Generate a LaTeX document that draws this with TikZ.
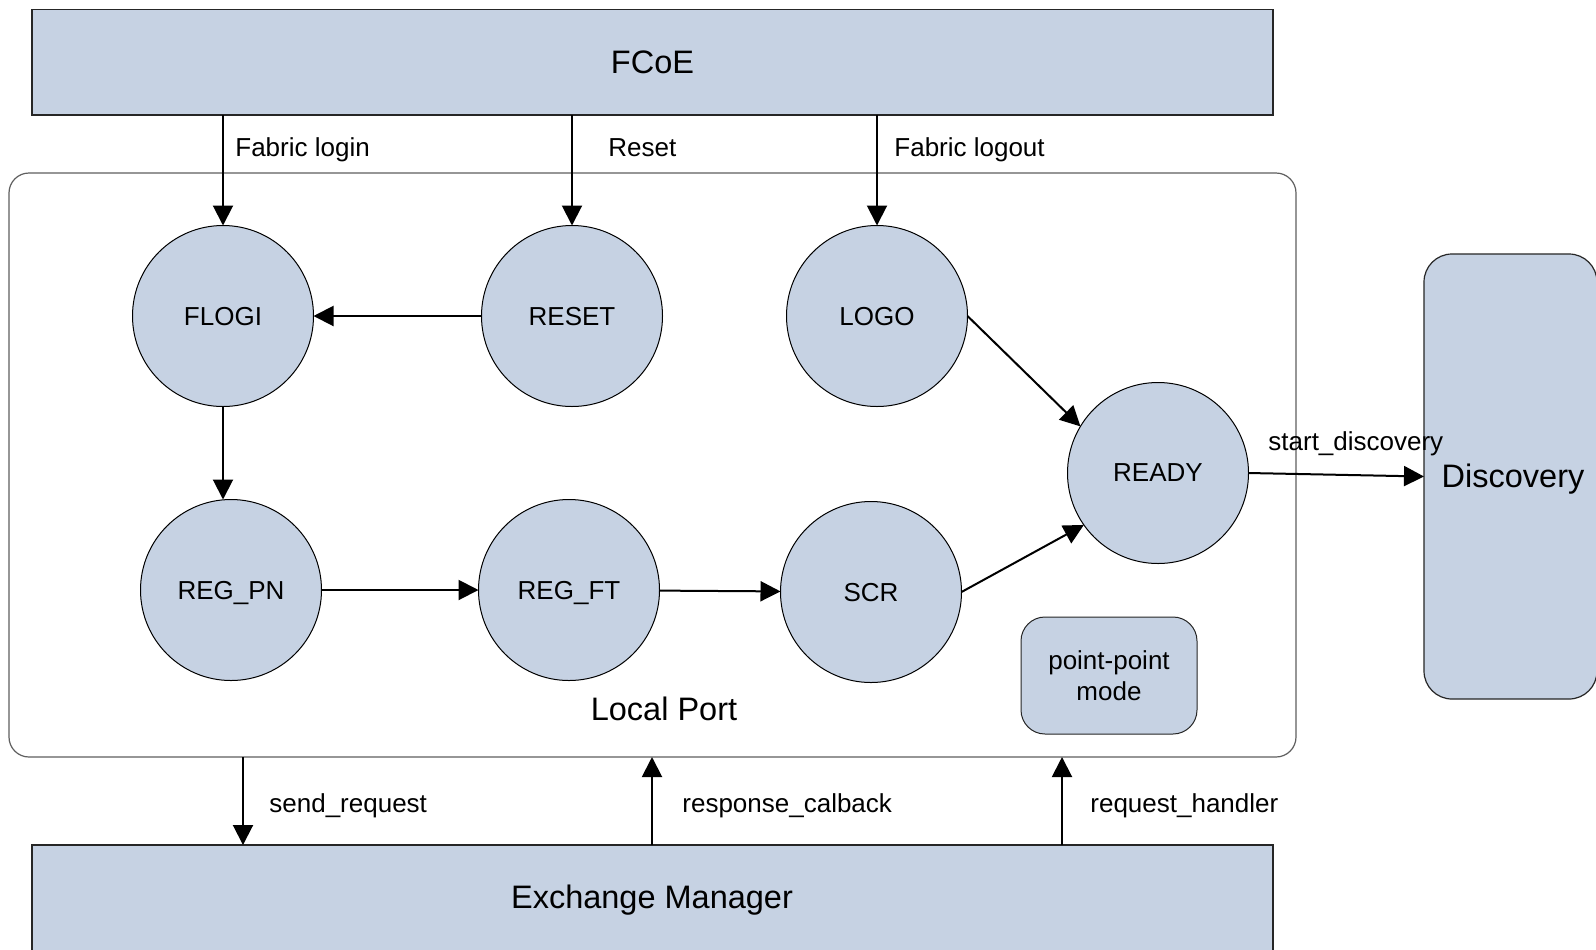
\documentclass[tikz,border=0pt]{standalone}
\usepackage{fontspec}
\setmainfont{Liberation Sans}
\usetikzlibrary{arrows.meta}
\definecolor{boxfill}{RGB}{198,210,227}
\definecolor{frame}{RGB}{95,95,95}
\tikzset{
  state/.style={circle, draw=black, line width=0.5pt, fill=boxfill, minimum size=90.5pt, inner sep=0pt, outer sep=0pt, text depth=0pt, font=\fontsize{13}{15}\selectfont},
  bar/.style={rectangle, draw=black!85, line width=0.6pt, fill=boxfill, inner sep=0pt, outer sep=0pt},
  flow/.style={line width=1pt, -{Triangle[length=10pt,width=10pt]}},
  lbl/.style={font=\fontsize{13}{15}\selectfont, inner sep=0pt, anchor=base west},
  big/.style={font=\fontsize{16.25}{19}\selectfont, inner sep=0pt}
}
\begin{document}
\begin{tikzpicture}[x=0.5pt,y=-0.5pt]
\clip (0,0) rectangle (1596,949);
\fill[white] (0,0) rectangle (1596,949);
% outer boxes
\node[bar, minimum width=620.5pt, minimum height=52.75pt, big] (FCoE) at (652.5,62.25) {FCoE};
\node[rectangle, draw=frame, line width=0.6pt, rounded corners=10pt, minimum width=643.5pt, minimum height=292pt, inner sep=0pt, outer sep=0pt] (LP) at (652.5,465) {};
\node[big] (LPtext) at (664,709) {Local Port};
\node[bar, rounded corners=14pt, minimum width=86.5pt, minimum height=222.5pt] (Disc) at (1510.5,476.5) {};
\node[big, anchor=base] (Disctext) at (1513,487) {Discovery};
\node[bar, minimum width=620.5pt, minimum height=60pt, anchor=north] (EM) at (652.5,845) {};
\node[big, anchor=base] (EMtext) at (652,908) {Exchange Manager};
\node[rectangle, draw=black!85, line width=0.5pt, fill=boxfill, rounded corners=12pt, minimum width=88pt, minimum height=58.5pt, inner sep=0pt, align=center, font=\fontsize{13}{15.5}\selectfont] (PP) at (1109,675.5) {point-point\\mode};
% states
\node[state] (FLOGI) at (223,316) {FLOGI};
\node[state] (RESET) at (572,316) {RESET};
\node[state] (LOGO) at (877,316) {LOGO};
\node[state] (READY) at (1158,473) {READY};
\node[state] (REGPN) at (231,590) {REG\_PN};
\node[state] (REGFT) at (569,590) {REG\_FT};
\node[state] (SCR) at (871,592) {SCR};
% arrows from FCoE
\draw[flow] (FLOGI |- FCoE.south) -- (FLOGI.north);
\draw[flow] (RESET |- FCoE.south) -- (RESET.north);
\draw[flow] (LOGO |- FCoE.south) -- (LOGO.north);
\node[lbl] (l1) at (235,156) {Fabric login};
\node[lbl] (l2) at (608,156) {Reset};
\node[lbl] (l3) at (894,156) {Fabric logout};
% internal arrows
\draw[flow] (RESET.west) -- (FLOGI.east);
\draw[flow] (FLOGI.south) -- (FLOGI.south |- REGPN.north);
\draw[flow] (REGPN) -- (REGFT);
\draw[flow] (REGFT) -- (SCR);
\draw[flow] (SCR.east) -- (READY.215);
\draw[flow] (LOGO.east) -- (READY.149);
\draw[flow] (READY.east) -- (Disc.west);
\node[lbl] (l4) at (1268,450) {start\_discovery};
% exchange manager arrows
\coordinate (c1) at (243,0);
\coordinate (c2) at (652,0);
\coordinate (c3) at (1062,0);
\draw[flow] (c1 |- LP.south) -- (c1 |- EM.north);
\draw[flow] (c2 |- EM.north) -- (c2 |- LP.south);
\draw[flow] (c3 |- EM.north) -- (c3 |- LP.south);
\node[lbl] (l5) at (269,812) {send\_request};
\node[lbl] (l6) at (682,812) {response\_calback};
\node[lbl] (l7) at (1090,812) {request\_handler};
\end{tikzpicture}
\end{document}
